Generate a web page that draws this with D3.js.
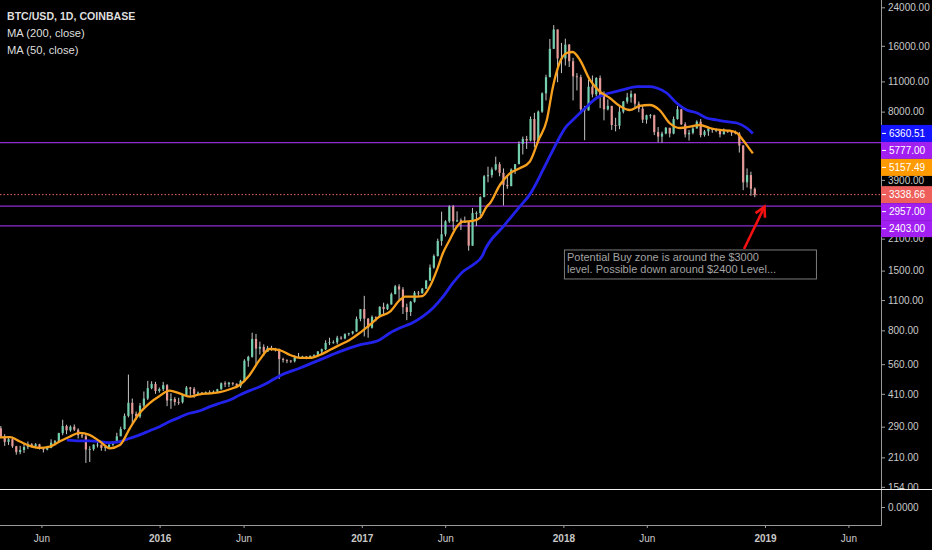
<!DOCTYPE html>
<html>
<head>
<meta charset="utf-8">
<script src="https://cdn.jsdelivr.net/npm/d3@7/dist/d3.min.js"></script>
<style>
html, body { margin: 0; padding: 0; background: #000; }
svg { display: block; font-family: "Liberation Sans", Arial, sans-serif; }
</style>
</head>
<body>
<div id="chart"></div>
<script>
// weekly candles, first week starts Mon 2015-03-16, open = previous close
var firstWeek = '2015-03-16';
var firstOpen = 285;

var weekClose = [
  // 2015
  262, 247, 254, 236, 222, 227, 234, 241, 237, 241, 230, 228, 232, 245, 249, 271, 292, 279, 290, 281,
  265, 262, 228, 229, 240, 240, 232, 234, 240, 245, 262, 283, 325, 373, 332, 323, 362, 390, 435, 455,
  422, 431,
  // 2016
  449, 382, 388, 376, 375, 405, 438, 432, 410, 415, 410, 417, 418, 420, 430, 458, 453, 461, 456, 443,
  470, 581, 605, 730, 660, 672, 638, 665, 660, 655, 591, 585, 581, 578, 600, 606, 607, 603, 612, 618,
  640, 655, 700, 705, 705, 740, 735, 768, 775, 790, 902, 1000,
  // 2017
  905, 822, 922, 920, 1025, 1000, 1050, 1170, 1270, 1230, 1020, 970, 1080, 1190, 1180, 1240, 1350, 1550, 1750, 2050,
  2200, 2520, 2950, 2520, 2550, 2500, 2500, 1950, 2750, 2750, 3250, 4050, 4100, 4350, 4600, 4200, 3700, 3650, 4350, 4600,
  5700, 6000, 5900, 7400, 5900, 8000, 9700, 11500, 15500, 19000, 14000, 14000,
  // 2018
  16200, 13600, 11600, 11500, 8200, 8100, 10400, 9600, 11400, 9500, 8200, 8500, 6950, 6900, 8000, 8900, 9300, 9650, 8700, 8250,
  7350, 7700, 7700, 6450, 6150, 6350, 6750, 6350, 7400, 8200, 7000, 6300, 6400, 6700, 7200, 6250, 6500, 6700, 6600, 6600,
  6300, 6500, 6450, 6400, 6350, 5600, 3800, 4100, 3550, 3338.66
];

var weekHigh = [
  // 2015
  292, 268, 262, 261, 237, 237, 242, 248, 244, 244, 242, 233, 237, 254, 252, 272, 312, 296, 294, 297,
  285, 272, 269, 236, 241, 248, 240, 238, 241, 248, 272, 290, 333, 502, 390, 340, 372, 420, 470, 468,
  465, 438,
  // 2016
  465, 454, 412, 396, 393, 407, 445, 441, 440, 420, 418, 420, 425, 425, 432, 462, 468, 465, 462, 457,
  475, 590, 612, 780, 770, 710, 690, 679, 680, 665, 660, 600, 590, 585, 615, 630, 612, 610, 613, 620,
  643, 660, 720, 740, 720, 755, 752, 775, 780, 795, 925, 1000,
  // 2017
  1150, 910, 935, 925, 1030, 1070, 1060, 1190, 1290, 1300, 1260, 1060, 1090, 1210, 1210, 1250, 1360, 1600, 1780, 2100,
  2790, 2550, 2980, 2990, 2800, 2600, 2650, 2500, 2900, 2800, 3280, 4100, 4480, 4450, 4980, 4700, 4400, 4100, 4400, 4600,
  5850, 6150, 6200, 7600, 7900, 8100, 9800, 11800, 17200, 19890, 19000, 16500,
  // 2018
  17250, 16300, 14100, 12000, 11800, 8500, 11200, 11700, 11500, 11700, 9900, 9100, 8500, 7500, 8400, 8950, 9750, 9990, 9700, 8900,
  8500, 7750, 7800, 7750, 6800, 6480, 6800, 6750, 7600, 8500, 8250, 7150, 6600, 6800, 7300, 7400, 6600, 6800, 6700, 6700,
  6650, 6700, 6550, 6500, 6550, 6450, 5620, 4400, 4250, 3600
];

var weekLow = [
  // 2015
  257, 237, 239, 232, 216, 217, 220, 229, 233, 231, 228, 221, 226, 231, 238, 247, 265, 268, 275, 277,
  256, 257, 198, 200, 225, 233, 225, 224, 233, 237, 244, 263, 281, 320, 300, 312, 317, 355, 384, 430,
  410, 415,
  // 2016
  422, 360, 350, 362, 365, 370, 400, 400, 393, 405, 406, 408, 410, 415, 418, 428, 440, 440, 447, 435,
  436, 465, 545, 600, 550, 620, 610, 640, 645, 640, 480, 570, 566, 568, 570, 600, 603, 590, 600, 608,
  615, 628, 650, 685, 695, 690, 725, 728, 755, 765, 788, 880,
  // 2017
  750, 740, 815, 880, 915, 950, 990, 1050, 1170, 1080, 950, 890, 930, 1070, 1150, 1180, 1240, 1350, 1530, 1740,
  1950, 2150, 2480, 2300, 2500, 2300, 2480, 1850, 1950, 2400, 2650, 3250, 3800, 3990, 4300, 4050, 2980, 3550, 3650, 4150,
  4600, 5100, 5400, 5850, 5500, 5800, 7900, 9000, 11500, 15500, 10900, 12000,
  // 2018
  13000, 12800, 9000, 10000, 7800, 5920, 8100, 9300, 9400, 8300, 7300, 8100, 6600, 6500, 6650, 7850, 8700, 8800, 8400, 7950,
  7100, 7050, 7450, 6250, 5800, 5780, 6300, 6100, 6300, 7350, 6950, 6100, 5900, 6300, 6700, 6100, 6150, 6200, 6400, 6450,
  6100, 6300, 6400, 6200, 6300, 5200, 3500, 3600, 3300, 3250
];

// MA (200, close)
var ma200 = [
  ['2015-07-17', 252], ['2015-08-09', 250], ['2015-08-27', 249.5], ['2015-09-15', 247.6], ['2015-10-03', 245],
  ['2015-10-21', 247.6], ['2015-11-08', 256.7], ['2015-11-26', 266], ['2015-12-14', 278], ['2016-01-01', 290],
  ['2016-01-19', 306], ['2016-02-06', 320], ['2016-02-24', 334], ['2016-03-14', 343], ['2016-04-01', 358],
  ['2016-04-19', 371], ['2016-05-07', 384], ['2016-05-25', 405], ['2016-06-12', 424], ['2016-06-30', 442],
  ['2016-07-18', 466], ['2016-08-05', 495], ['2016-09-11', 538], ['2016-10-17', 586], ['2016-11-22', 639],
  ['2016-12-28', 686], ['2017-02-02', 723], ['2017-02-21', 778], ['2017-03-11', 820], ['2017-04-03', 867],
  ['2017-04-21', 924], ['2017-05-10', 1012], ['2017-05-28', 1140], ['2017-06-15', 1317], ['2017-07-03', 1483],
  ['2017-07-21', 1592], ['2017-08-08', 1768], ['2017-08-12', 1865], ['2017-09-14', 2382], ['2017-10-14', 2940],
  ['2017-11-01', 3339], ['2017-11-25', 4328], ['2017-12-10', 5157], ['2017-12-20', 5777], ['2018-01-06', 6826],
  ['2018-01-18', 7326], ['2018-02-12', 8428], ['2018-03-02', 9237], ['2018-03-26', 9734], ['2018-04-18', 10049],
  ['2018-05-14', 10400], ['2018-06-06', 10400], ['2018-06-19', 10261], ['2018-07-07', 9734], ['2018-07-25', 8762],
  ['2018-08-12', 8140], ['2018-08-31', 7886], ['2018-09-17', 7482], ['2018-10-06', 7326], ['2018-10-24', 7196],
  ['2018-11-11', 7099], ['2018-11-29', 6734], ['2018-12-10', 6360.51]
];

// MA (50, close)
var ma50 = [
  ['2015-03-18', 259], ['2015-04-05', 260], ['2015-04-23', 248], ['2015-05-11', 237], ['2015-05-29', 232],
  ['2015-06-16', 235], ['2015-07-04', 248], ['2015-07-22', 261], ['2015-08-09', 272], ['2015-08-27', 266],
  ['2015-09-15', 248], ['2015-10-03', 231], ['2015-10-21', 239], ['2015-11-08', 285], ['2015-11-26', 335],
  ['2015-12-14', 372], ['2016-01-01', 401], ['2016-01-19', 424], ['2016-02-06', 412], ['2016-02-24', 398],
  ['2016-03-14', 408], ['2016-04-01', 412], ['2016-04-19', 417], ['2016-05-07', 430], ['2016-05-25', 450],
  ['2016-06-12', 500], ['2016-06-30', 586], ['2016-07-18', 657], ['2016-08-05', 650], ['2016-08-24', 617],
  ['2016-09-11', 598], ['2016-09-29', 598], ['2016-10-17', 617], ['2016-11-04', 650], ['2016-11-22', 686],
  ['2016-12-10', 723], ['2016-12-28', 778], ['2017-01-15', 846], ['2017-02-02', 924], ['2017-02-21', 973],
  ['2017-03-11', 1101], ['2017-03-20', 1140], ['2017-04-03', 1140], ['2017-04-21', 1148], ['2017-05-04', 1266],
  ['2017-05-17', 1510], ['2017-05-28', 1806], ['2017-06-09', 2071], ['2017-06-22', 2382], ['2017-07-03', 2512],
  ['2017-07-21', 2530], ['2017-08-03', 2611], ['2017-08-15', 2940], ['2017-08-21', 3048], ['2017-09-08', 3695],
  ['2017-09-26', 4181], ['2017-10-14', 4406], ['2017-11-01', 4723], ['2017-11-17', 5934], ['2017-12-02', 7326],
  ['2017-12-13', 10370], ['2017-12-25', 13350], ['2018-01-07', 14834], ['2018-01-18', 14990], ['2018-01-31', 13780],
  ['2018-02-18', 11165], ['2018-03-08', 9870], ['2018-03-26', 9237], ['2018-04-13', 8490], ['2018-05-01', 8140],
  ['2018-05-19', 8490], ['2018-06-06', 8580], ['2018-06-24', 8140], ['2018-07-12', 7099], ['2018-07-31', 6734],
  ['2018-08-18', 6826], ['2018-09-05', 6950], ['2018-09-23', 6734], ['2018-10-11', 6595], ['2018-10-29', 6547],
  ['2018-11-11', 6389], ['2018-11-22', 5934], ['2018-12-01', 5532], ['2018-12-10', 5157.49]
];

var levels = [5777, 2957, 2403];     // drawn support / resistance lines
var lastPrice = 3338.66;
var priceTicks = [24000, 16000, 11000, 8000, 3900, 2100, 1500, 1100, 800, 560, 410, 290, 210, 154];
var timeTicks = ['2015-06-01', '2016-01-01', '2016-06-01', '2017-01-01', '2017-06-01',
                 '2018-01-01', '2018-06-01', '2019-01-01', '2019-06-01'];
var legendLines = ['BTC/USD, 1D, COINBASE', 'MA (200, close)', 'MA (50, close)'];
var noteLines = ['Potential Buy zone is around the $3000', 'level. Possible down around $2400 Level...'];

var width = 932;
var height = 550;
var plotRight = 881;
var paneBottom = 489;
var lowerBottom = 525;

var upColor = '#74cfae';
var downColor = '#e69a98';
var wickColor = '#dcdcdc';
var blueColor = '#2222ea';
var orangeColor = '#f7a01e';
var purpleColor = '#8c2dcf';
var axisText = '#c9c9c9';

var parseDate = d3.utcParse('%Y-%m-%d');

var x = d3.scaleUtc()
    .domain([parseDate('2015-03-18'), parseDate('2019-07-30')])
    .range([0, plotRight]);

var y = d3.scaleLog()
    .domain([154, 24000])
    .range([486.8, 7.3]);

// lower (empty) pane
var y2 = d3.scaleLinear()
    .domain([-1, 1])
    .range([lowerBottom, paneBottom]);

var candles = weekClose.map(function (c, i) {
    var start = d3.utcDay.offset(parseDate(firstWeek), i * 7);
    return {
        date: d3.utcHour.offset(start, 84),
        open: i === 0 ? firstOpen : weekClose[i - 1],
        high: weekHigh[i],
        low: weekLow[i],
        close: c
    };
});

var svg = d3.select('#chart')
    .append('svg')
    .attr('width', width)
    .attr('height', height);

svg.append('rect')
    .attr('width', width)
    .attr('height', height)
    .attr('fill', '#000');

var defs = svg.append('defs');
defs.append('clipPath').attr('id', 'mainClip')
    .append('rect')
    .attr('x', 0).attr('y', 0)
    .attr('width', plotRight).attr('height', paneBottom);
// used inside the translated axis group, so local coordinates
defs.append('clipPath').attr('id', 'axisClip')
    .append('rect')
    .attr('x', 0).attr('y', 0)
    .attr('width', width - plotRight).attr('height', paneBottom);

var main = svg.append('g').attr('clip-path', 'url(#mainClip)');

// horizontal levels
main.selectAll('.level')
    .data(levels)
    .enter().append('line')
    .attr('class', 'level')
    .attr('x1', 0).attr('x2', plotRight)
    .attr('y1', d => y(d)).attr('y2', d => y(d))
    .attr('stroke', purpleColor)
    .attr('stroke-width', 1.3);

main.append('line')
    .attr('x1', 0).attr('x2', plotRight)
    .attr('y1', y(lastPrice)).attr('y2', y(lastPrice))
    .attr('stroke', '#e8695e')
    .attr('stroke-width', 1)
    .attr('stroke-dasharray', '1.5,2');

// candles
var candle = main.selectAll('.candle')
    .data(candles)
    .enter().append('g')
    .attr('class', 'candle');

candle.append('line')
    .attr('x1', d => x(d.date)).attr('x2', d => x(d.date))
    .attr('y1', d => y(d.high)).attr('y2', d => y(d.low))
    .attr('stroke', wickColor)
    .attr('stroke-width', 0.9);

candle.append('rect')
    .attr('x', d => x(d.date) - 1.1)
    .attr('width', 2.2)
    .attr('y', d => y(Math.max(d.open, d.close)))
    .attr('height', d => Math.max(0.8, Math.abs(y(d.open) - y(d.close))))
    .attr('fill', d => d.close >= d.open ? upColor : downColor);

// moving averages
var maLine = d3.line()
    .x(d => x(parseDate(d[0])))
    .y(d => y(d[1]))
    .curve(d3.curveMonotoneX);

main.append('path')
    .datum(ma200)
    .attr('d', maLine)
    .attr('fill', 'none')
    .attr('stroke', blueColor)
    .attr('stroke-width', 2.8);

main.append('path')
    .datum(ma50)
    .attr('d', maLine)
    .attr('fill', 'none')
    .attr('stroke', orangeColor)
    .attr('stroke-width', 2.3);

// legend
svg.selectAll('.legend')
    .data(legendLines)
    .enter().append('text')
    .attr('class', 'legend')
    .attr('x', 7)
    .attr('y', (d, i) => 20 + i * 17)
    .attr('fill', '#dedede')
    .attr('font-size', (d, i) => i === 0 ? '10.6px' : '11.2px')
    .attr('font-weight', (d, i) => i === 0 ? 'bold' : 'normal')
    .text(d => d);

// annotation
var noteX = x(parseDate('2018-01-02'));
var noteY = y(1874);
svg.append('rect')
    .attr('x', noteX + 0.5)
    .attr('y', noteY + 0.5)
    .attr('width', 252)
    .attr('height', 29)
    .attr('fill', '#000')
    .attr('stroke', '#7c7c7c')
    .attr('stroke-width', 1);

svg.selectAll('.note')
    .data(noteLines)
    .enter().append('text')
    .attr('class', 'note')
    .attr('x', noteX + 3)
    .attr('y', (d, i) => noteY + 12 + i * 11.5)
    .attr('fill', '#a3a3a3')
    .attr('font-size', '11px')
    .text(d => d);

// red arrow towards the buy zone
var arrowTail = [x(parseDate('2018-11-24')), noteY - 0.5];
var arrowTip = [x(parseDate('2018-12-31')), y(2940)];
var ang = Math.atan2(arrowTip[1] - arrowTail[1], arrowTip[0] - arrowTail[0]);
var headLen = 11;
svg.append('line')
    .attr('x1', arrowTail[0]).attr('y1', arrowTail[1])
    .attr('x2', arrowTip[0]).attr('y2', arrowTip[1])
    .attr('stroke', '#f21010')
    .attr('stroke-width', 2.6);
svg.append('path')
    .attr('d', 'M' + (arrowTip[0] - headLen * Math.cos(ang - 0.5)) + ',' + (arrowTip[1] - headLen * Math.sin(ang - 0.5)) +
               'L' + arrowTip[0] + ',' + arrowTip[1] +
               'L' + (arrowTip[0] - headLen * Math.cos(ang + 0.5)) + ',' + (arrowTip[1] - headLen * Math.sin(ang + 0.5)))
    .attr('fill', 'none')
    .attr('stroke', '#f21010')
    .attr('stroke-width', 2.6)
    .attr('stroke-linejoin', 'miter');

// price axis
var yAxis = svg.append('g')
    .attr('transform', 'translate(' + plotRight + ',0)')
    .call(d3.axisRight(y)
        .tickValues(priceTicks)
        .tickFormat(d3.format('.2f'))
        .tickSize(4)
        .tickPadding(3));

var yAxis2 = svg.append('g')
    .attr('transform', 'translate(' + plotRight + ',0)')
    .call(d3.axisRight(y2)
        .tickValues([0])
        .tickFormat(d3.format('.4f'))
        .tickSize(4)
        .tickPadding(3));

[yAxis, yAxis2].forEach(function (g) {
    g.select('.domain').remove();
    g.selectAll('.tick line').attr('stroke', '#a0a0a0');
    g.selectAll('.tick text')
        .attr('fill', axisText)
        .attr('font-size', '10px')
        .attr('font-family', '"Liberation Sans", Arial, sans-serif');
});
yAxis.attr('clip-path', 'url(#axisClip)');

// time axis
var xAxis = svg.append('g')
    .attr('transform', 'translate(0,' + lowerBottom + ')')
    .call(d3.axisBottom(x)
        .tickValues(timeTicks.map(parseDate))
        .tickFormat(d => d.getUTCMonth() === 0 ? d3.utcFormat('%Y')(d) : d3.utcFormat('%b')(d))
        .tickSize(3)
        .tickPadding(7));
xAxis.select('.domain').remove();
xAxis.selectAll('.tick line').attr('stroke', '#a0a0a0');
xAxis.selectAll('.tick text')
    .attr('fill', axisText)
    .attr('font-size', '10px')
    .attr('font-weight', d => d.getUTCMonth() === 0 ? 'bold' : 'normal')
    .attr('font-family', '"Liberation Sans", Arial, sans-serif');

// frame lines
svg.append('line')
    .attr('x1', plotRight + 0.5).attr('x2', plotRight + 0.5)
    .attr('y1', 0).attr('y2', lowerBottom + 0.5)
    .attr('stroke', '#9a9a9a');
svg.append('line')
    .attr('x1', 0).attr('x2', plotRight + 0.5)
    .attr('y1', lowerBottom + 0.5).attr('y2', lowerBottom + 0.5)
    .attr('stroke', '#9a9a9a');
svg.append('line')
    .attr('x1', 0).attr('x2', width)
    .attr('y1', paneBottom + 0.5).attr('y2', paneBottom + 0.5)
    .attr('stroke', '#f2f2f2')
    .attr('stroke-width', 1.2);

// last value labels on the price scale, pushed apart when they collide
var tags = [
    { value: 6360.51, color: '#1414ff' },
    { value: 5777, color: '#a21ff2' },
    { value: 5157.49, color: '#ff9a00' },
    { value: lastPrice, color: '#ee5f5b' },
    { value: 2957, color: '#a21ff2' },
    { value: 2403, color: '#a21ff2' }
];
tags.sort((a, b) => y(a.value) - y(b.value));
var tagH = 17;
var prev = -Infinity;
tags.forEach(function (t) {
    t.pos = Math.max(y(t.value), prev + tagH);
    prev = t.pos;
});

var tag = svg.selectAll('.tag')
    .data(tags)
    .enter().append('g')
    .attr('class', 'tag')
    .attr('transform', d => 'translate(' + plotRight + ',' + d.pos + ')');

tag.append('rect')
    .attr('x', 0)
    .attr('y', -tagH / 2)
    .attr('width', width - plotRight)
    .attr('height', tagH)
    .attr('fill', d => d.color);

tag.append('line')
    .attr('x1', 1).attr('x2', 5)
    .attr('stroke', '#fff');

tag.append('text')
    .attr('x', 8)
    .attr('dy', '0.35em')
    .attr('fill', '#fff')
    .attr('font-size', '10px')
    .text(d => d3.format('.2f')(d.value));
</script>
</body>
</html>
